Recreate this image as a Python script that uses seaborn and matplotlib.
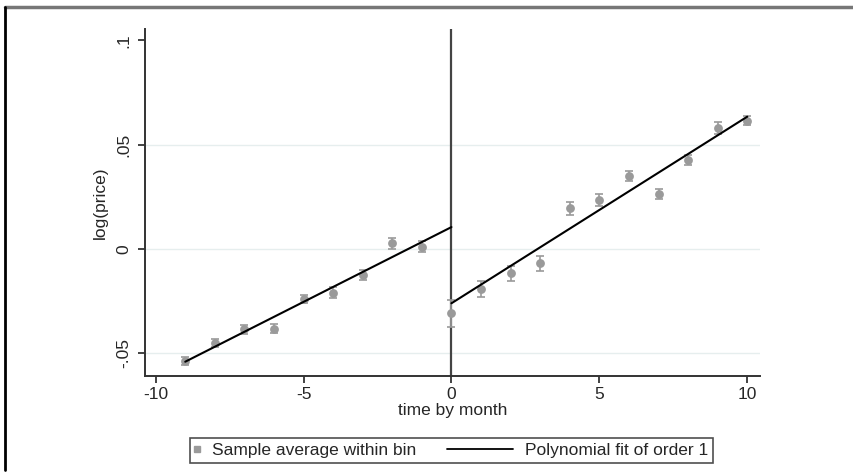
import numpy as np
import pandas as pd
import matplotlib
matplotlib.use("Agg")
import matplotlib.pyplot as plt
import seaborn as sns
from matplotlib.lines import Line2D
from matplotlib.legend_handler import HandlerLine2D

# bin means
months = [-9, -8, -7, -6, -5, -4, -3, -2, -1, 0, 1, 2, 3, 4, 5, 6, 7, 8, 9, 10]
bin_mean = [-0.0535, -0.0449, -0.0385, -0.0382, -0.0241, -0.0209, -0.0125, 0.0027, 0.0011, -0.0308,
            -0.0192, -0.0117, -0.0069, 0.0195, 0.0235, 0.0350, 0.0264, 0.0427, 0.0579, 0.0615]
bin_err = [0.0020, 0.0020, 0.0020, 0.0022, 0.0020, 0.0025, 0.0025, 0.0025, 0.0025, 0.0066,
           0.0038, 0.0035, 0.0035, 0.0030, 0.0028, 0.0025, 0.0025, 0.0025, 0.0028, 0.0020]

# linear fit on each side of the cutoff (endpoints)
fit_left_x = [-9, 0]
fit_left_y = [-0.0540, 0.0105]
fit_right_x = [0, 10]
fit_right_y = [-0.0260, 0.0634]

xticks = [-10, -5, 0, 5, 10]
yticks = [-0.05, 0, 0.05, 0.1]
ytick_labels = ["-.05", "0", ".05", ".1"]
grid_y = [-0.05, 0, 0.05]

bins = pd.DataFrame({"month": months, "mean": bin_mean, "err": bin_err})


# legend handles: marker sits at the right end, line sticks out to the left
class MarkerRight(HandlerLine2D):
    def get_xdata(self, legend, xdescent, ydescent, width, height, fontsize):
        x = [-xdescent + width - 4, -xdescent + width]
        return x, x


class LongLine(HandlerLine2D):
    def get_xdata(self, legend, xdescent, ydescent, width, height, fontsize):
        x = [-xdescent + width - 47.5, -xdescent + width]
        return x, x


sns.set_style("white")
plt.rcParams["font.family"] = ["Liberation Sans", "DejaVu Sans"]
fs = 12.5

fig = plt.figure(figsize=(8.54, 4.73), dpi=100)
ax = fig.add_axes([0.1698, 0.2057, 0.7201, 0.733])

pt_col = "#9a9a9a"
for g in grid_y:
    ax.axhline(g, color="#e6eeee", lw=1.0, zorder=0)

ax.errorbar(bins["month"], bins["mean"], yerr=bins["err"], fmt="none",
            ecolor=pt_col, elinewidth=1.2, capsize=3, capthick=1.2, zorder=2)
sns.scatterplot(data=bins, x="month", y="mean", color=pt_col, s=40,
                edgecolor=pt_col, linewidth=0, ax=ax, zorder=3, legend=False)

sns.lineplot(x=fit_left_x, y=fit_left_y, color="black", lw=1.5, ax=ax, zorder=4)
sns.lineplot(x=fit_right_x, y=fit_right_y, color="black", lw=1.5, ax=ax, zorder=4)

ax.axvline(0, color="#444444", lw=1.6, zorder=1)

ax.set_xlim(-10.36, 10.43)
ax.set_ylim(-0.0607, 0.1054)
ax.set_xticks(xticks)
ax.set_xticklabels([str(t) for t in xticks], fontsize=fs)
ax.set_yticks(yticks)
ax.set_yticklabels(ytick_labels, fontsize=fs, rotation=90, va="center")
ax.tick_params(axis="both", direction="out", length=5, width=1.2, color="#222222",
               bottom=True, left=True)
ax.tick_params(axis="x", pad=3)
ax.tick_params(axis="y", pad=5)
ax.set_xlabel("time by month", fontsize=fs, labelpad=1)
ax.set_ylabel("log(price)", fontsize=fs, labelpad=6)

for side in ["top", "right"]:
    ax.spines[side].set_visible(False)
for side in ["left", "bottom"]:
    ax.spines[side].set_color("#333333")
    ax.spines[side].set_linewidth(1.4)

h_pts = Line2D([], [], marker="s", color=pt_col, linestyle="none", markersize=5)
h_fit = Line2D([], [], color="black", lw=1.3)
leg = fig.legend([h_pts, h_fit], ["Sample average within bin", "Polynomial fit of order 1"],
                 handler_map={h_pts: MarkerRight(numpoints=1), h_fit: LongLine(numpoints=1)},
                 loc="center", bbox_to_anchor=(0.5287, 0.048), ncol=2, fontsize=fs,
                 frameon=True, fancybox=False, edgecolor="#222222", handlelength=0.3,
                 columnspacing=5.3, borderpad=0.3, handletextpad=0.67)
leg.get_frame().set_linewidth(1.2)

# outer frame of the graph region
fig.add_artist(Line2D([0.006, 1.0], [0.986, 0.986], color="#777777", lw=2.5))
fig.add_artist(Line2D([0.006, 0.006], [0.006, 0.986], color="black", lw=2.0))

fig.savefig("out.png", dpi=100)
